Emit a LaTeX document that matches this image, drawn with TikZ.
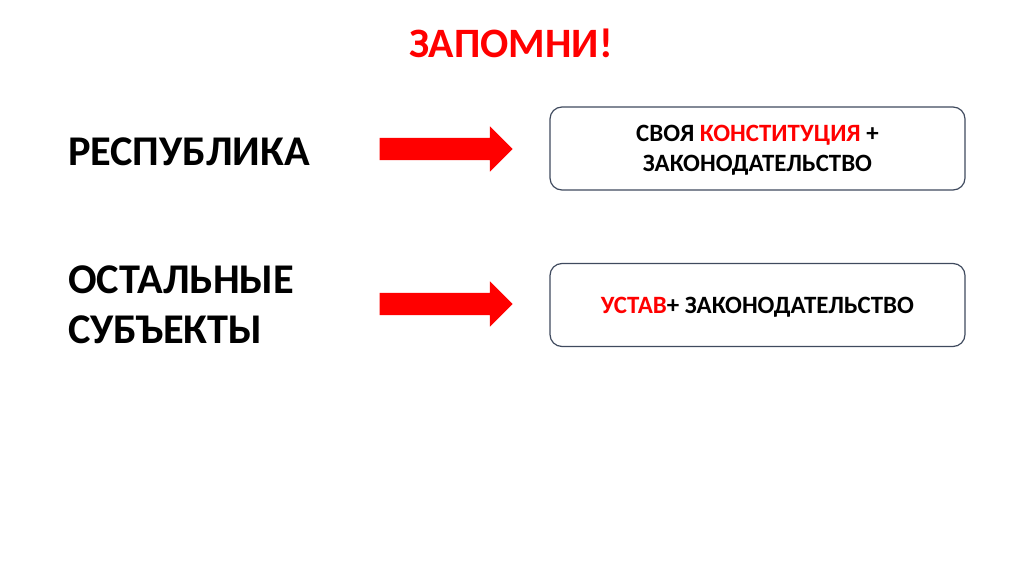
\documentclass[tikz,border=0pt]{standalone}
\usepackage{fontspec}
\setmainfont{Carlito}
\usetikzlibrary{shapes.arrows}
\definecolor{boxline}{HTML}{3F4A5E}
\tikzset{
  bigtext/.style={font=\bfseries\fontsize{42.5}{50}\selectfont,anchor=base west,inner sep=0pt,align=left},
  rulebox/.style={draw=boxline,line width=1.2pt,rounded corners=12bp,minimum width=415bp,minimum height=83bp,
    font=\bfseries\fontsize{25}{30}\selectfont,align=center,text depth=0pt},
  redarrow/.style={single arrow,fill=red,draw=none,minimum height=133bp,inner xsep=0pt,inner ysep=11bp,
    single arrow head extend=11.5bp}
}
\begin{document}
\begin{tikzpicture}[x=1bp,y=-1bp]
\useasboundingbox (0,0) rectangle (1024,574);
\node[font=\bfseries\fontsize{42}{50}\selectfont,text=red,anchor=base,inner sep=0pt] (title) at (511,58) {ЗАПОМНИ!};
\node[bigtext] (rep) at (68,166) {РЕСПУБЛИКА};
\node[bigtext] (oth) at (68,343) {ОСТАЛЬНЫЕ\\СУБЪЕКТЫ};
\node[rulebox] (box1) at (757.5,148.5) {СВОЯ \textcolor{red}{КОНСТИТУЦИЯ} +\\ЗАКОНОДАТЕЛЬСТВО};
\node[rulebox] (box2) at (757.5,305) {\textcolor{red}{УСТАВ}+ ЗАКОНОДАТЕЛЬСТВО};
\node[redarrow] (arr1) at (440.5,149) {};
\node[redarrow] (arr2) at (440.5,304) {};
\end{tikzpicture}
\end{document}
